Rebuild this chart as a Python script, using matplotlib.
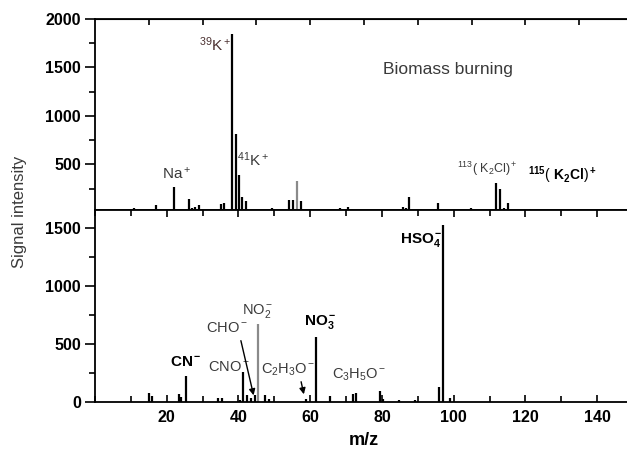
import numpy as np
import matplotlib
matplotlib.use('Agg')
import matplotlib.pyplot as plt
from matplotlib.ticker import MultipleLocator

plt.rcParams['font.family'] = ['Liberation Sans', 'DejaVu Sans']
plt.rcParams['mathtext.fontset'] = 'custom'
plt.rcParams['mathtext.rm'] = 'Liberation Sans'
plt.rcParams['mathtext.it'] = 'Liberation Sans:italic'
plt.rcParams['mathtext.bf'] = 'Liberation Sans:bold'

# cation spectrum (biomass burning)
top_mz = [10.9, 16.9, 22.1, 26.1, 27.0, 27.9, 29.1, 35.2, 36.0, 36.9, 38.2, 39.3,
          40.2, 41.1, 42.2, 49.3, 54.2, 55.3, 56.4, 57.5, 68.4, 70.5, 71.7, 85.8,
          86.8, 87.5, 90.8, 95.6, 104.9, 111.9, 113.0, 114.0, 115.2, 121.2]
top_int = [55, 79, 271, 141, 55, 65, 79, 89, 107, 45, 1847, 819,
           391, 168, 123, 50, 131, 131, 329, 123, 55, 62, 45, 62,
           55, 168, 45, 107, 55, 305, 244, 55, 100, 45]
top_gray = [56.4]

# anion spectrum
bot_mz = [15.1, 16.0, 23.3, 23.9, 25.3, 34.4, 35.3, 40.5, 41.4, 42.4, 43.5, 44.5,
          45.5, 47.5, 48.6, 58.7, 61.6, 65.6, 71.8, 72.7, 79.5, 80.3, 84.7, 89.1,
          95.9, 97.0, 98.9]
bot_int = [80, 52, 69, 40, 227, 35, 35, 20, 261, 60, 37, 60,
           670, 60, 25, 25, 557, 52, 66, 78, 95, 25, 15, 20,
           126, 1526, 35]
bot_gray = [45.5]

txt = '#3a3a3a'
tickfont = ['Liberation Sans Narrow', 'Liberation Sans']

fig = plt.figure(figsize=(6.27, 4.57), dpi=100)
left, right = 95 / 627, 633 / 627
ax1 = fig.add_axes([left, 1 - 210 / 457, right - left, 191 / 457])
ax2 = fig.add_axes([left, 1 - 402 / 457, right - left, 192 / 457])


def draw_peaks(ax, mz, inten, gray, base):
    for m, v in zip(mz, inten):
        c = '#8a8a8a' if m in gray else 'black'
        ax.vlines(m, base, v, color=c, lw=1.6)


draw_peaks(ax1, top_mz, top_int, top_gray, 30)
draw_peaks(ax2, bot_mz, bot_int, bot_gray, 0)

for ax in (ax1, ax2):
    ax.set_xlim(0, 150)
    for s in ax.spines.values():
        s.set_linewidth(1.3)
    ax.yaxis.set_tick_params(which='both', direction='out', width=1.2)
    ax.yaxis.set_tick_params(which='major', length=7, pad=3)
    ax.yaxis.set_tick_params(which='minor', length=4)
    ax.xaxis.set_major_locator(MultipleLocator(20))
    ax.xaxis.set_minor_locator(MultipleLocator(10))

ax1.set_ylim(30, 2000)
ax1.set_yticks([500, 1000, 1500, 2000])
ax1.yaxis.set_minor_locator(MultipleLocator(250))
ax1.tick_params(axis='x', which='both', bottom=False, top=False, labelbottom=False)
for lab in ax1.get_yticklabels():
    lab.set_family(tickfont)
    lab.set_fontweight('bold')
    lab.set_fontsize(11.5)
sec = ax1.secondary_xaxis('top')
sec.set_xticks([15, 30, 45, 60, 75, 90, 105, 120, 135])
sec.tick_params(direction='in', length=4, width=1.2, labeltop=False)

ax2.set_ylim(0, 1655)
ax2.set_yticks([0, 500, 1000, 1500])
ax2.yaxis.set_minor_locator(MultipleLocator(250))
ax2.tick_params(axis='x', which='both', direction='in', top=True, width=1.2)
ax2.tick_params(axis='x', which='major', length=5, pad=6)
ax2.tick_params(axis='x', which='minor', length=4)
ax2.set_xticks([20, 40, 60, 80, 100, 120, 140])
for lab in ax2.get_xticklabels() + ax2.get_yticklabels():
    lab.set_family(tickfont)
    lab.set_fontweight('bold')
    lab.set_fontsize(11.5)

# faint ticks on the (cut off) right axis
for ax, vals in ((ax1, [420, 810, 1200, 1600]), (ax2, [330, 660, 990, 1330])):
    r = ax.secondary_yaxis('right')
    r.set_yticks(vals)
    r.tick_params(direction='in', length=3, width=1, color='#bbbbbb', labelright=False)

# labels, top panel
ax1.text(33.5, 1733, r'$^{39}$K$^+$', color='#4a2f2f', fontsize=11, ha='center', va='center')
ax1.text(22.6, 407, r'Na$^+$', color=txt, fontsize=11, ha='center', va='center')
ax1.text(44.0, 551, r'$^{41}$K$^+$', color=txt, fontsize=11, ha='center', va='center')
ax1.text(98.3, 1477, 'Biomass burning', color=txt, fontsize=12.5, ha='center', va='center')
ax1.text(109.5, 449, r'$^{113}$( K$_2$Cl)$^+$', color=txt, fontsize=9, ha='center', va='center')
ax1.text(130.4, 387, r'$\mathbf{^{115}}$( $\mathbf{K_2Cl}$)$\mathbf{^+}$', color='black',
         fontsize=10, ha='center', va='center')

# labels, bottom panel
ax2.text(25.4, 345, r'$\mathbf{CN^-}$', fontsize=11, ha='center', va='center')
ax2.text(37.4, 302, r'CNO$^-$', color=txt, fontsize=10.5, ha='center', va='center')
ax2.text(36.9, 638, r'CHO$^-$', color=txt, fontsize=10.5, ha='center', va='center')
ax2.annotate('', xy=(44.4, 34), xytext=(40.5, 552),
             arrowprops=dict(arrowstyle='-|>', color='black', lw=1, mutation_scale=9))
ax2.text(45.3, 784, r'NO$_2^-$', color=txt, fontsize=10.5, ha='center', va='center')
ax2.text(62.8, 690, r'$\mathbf{NO_3^-}$', fontsize=11, ha='center', va='center')
ax2.text(53.9, 276, r'C$_2$H$_3$O$^-$', color=txt, fontsize=10.5, ha='center', va='center')
ax2.annotate('', xy=(58.4, 43), xytext=(57.3, 198),
             arrowprops=dict(arrowstyle='-|>', color='black', lw=1, mutation_scale=9))
ax2.text(73.7, 233, r'C$_3$H$_5$O$^-$', color=txt, fontsize=10.5, ha='center', va='center')
ax2.text(91.1, 1397, r'$\mathbf{HSO_4^-}$', fontsize=11, ha='center', va='center')

ax2.set_xlabel('m/z', fontsize=13, fontweight='bold', labelpad=5)
fig.text(20 / 627, 1 - 212 / 457, 'Signal intensity', rotation=90, color=txt,
         fontsize=12, ha='center', va='center')

fig.savefig('out.png', dpi=100)
